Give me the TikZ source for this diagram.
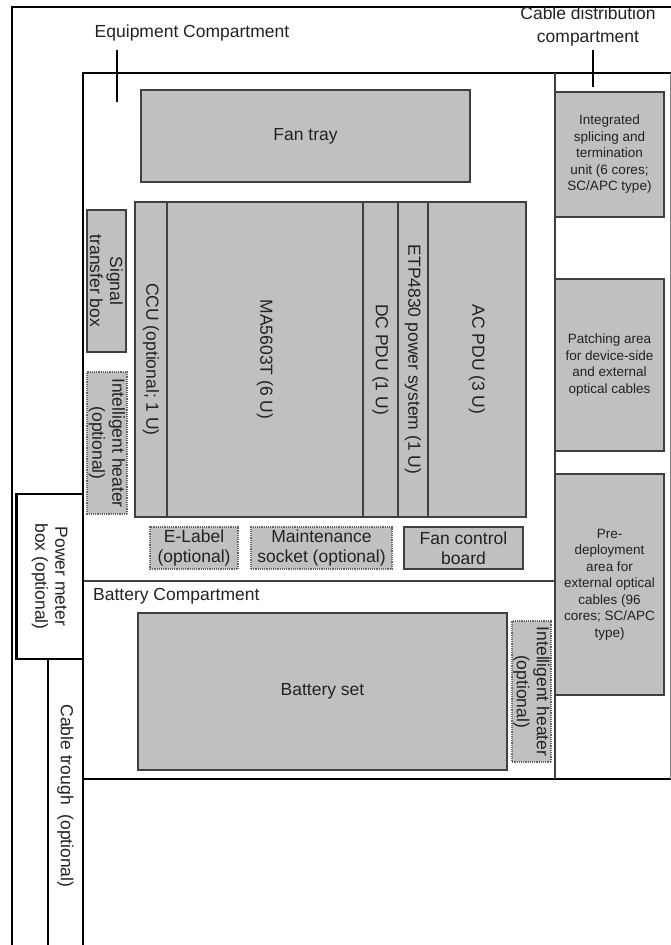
\documentclass[tikz,border=0pt]{standalone}
\usepackage{fontspec}
\setmainfont{Liberation Sans}
\definecolor{unitfill}{HTML}{C0C0C0}
\definecolor{unitline}{HTML}{404040}
\definecolor{textgray}{HTML}{222222}
\begin{document}
\begin{tikzpicture}[x=1pt,y=-1pt,
    unit/.style={draw=unitline,fill=unitfill,line width=1.2pt,inner sep=0pt,align=center,
      text=textgray,font=\fontsize{17.5}{20}\selectfont},
    optunit/.style={unit,draw=unitline!80,densely dotted},
    small/.style={font=\fontsize{13.5}{16.5}\selectfont},
    caption/.style={inner sep=0pt,align=center,text=textgray,font=\fontsize{17.5}{20}\selectfont}]

      \useasboundingbox (0,0) rectangle (671,945);

      \draw[line width=2pt] (12,945) -- (12,7) -- (671,7);
      \draw[line width=2pt] (83,945) -- (83,73) -- (671,73);
      \draw[line width=2pt] (83,779) -- (671,779);
      \draw[line width=1.5pt,unitline] (555,73) -- (555,779);
      \draw[line width=1.2pt,unitline] (83,581) -- (555,581);
      \draw[line width=1pt,gray] (670,73) -- (670,779);
      \draw[line width=1.5pt] (48,659) -- (48,945);

      \node[caption] (eqlabel)  at (192,33)   {Equipment Compartment};
      \node[caption,font=\fontsize{17.5}{23}\selectfont] (cablabel) at (588,26.5) {Cable distribution\\compartment};
      \node[caption,anchor=west] (batlabel) at (93,596) {Battery Compartment};

      \coordinate (eqtick)  at (117,50);
      \coordinate (eqend)   at (117,102);
      \coordinate (cabtick) at (593,50);
      \coordinate (cabend)  at (593,87);
      \draw[line width=1.2pt] (eqtick) -- (eqend);
      \draw[line width=1.2pt] (cabtick) -- (cabend);

      \node[unit,minimum width=329pt,minimum height=92pt] (fan) at (305.5,136) {Fan tray};

      \begin{scope}[every node/.append style={rotate=-90,minimum width=315pt}]
        \node[unit,minimum height=32pt] (ccu)   at (151,359.5)   {CCU (optional; 1 U)};
        \node[unit,minimum height=196pt] (ma)   at (265,359.5)   {MA5603T (6 U)};
        \node[unit,minimum height=35pt] (dcpdu) at (380.5,359.5) {DC PDU (1 U)};
        \node[unit,minimum height=30pt] (etp)   at (413,359.5)   {ETP4830 power system (1 U)};
        \node[unit,minimum height=98pt] (acpdu) at (477,359.5)   {AC PDU (3 U)};
      \end{scope}

      \node[unit,rotate=-90,minimum width=142pt,minimum height=39pt] (signal) at (106.5,281) {Signal\\transfer box};
      \node[optunit,rotate=-90,minimum width=142pt,minimum height=40pt] (heatup) at (107,443) {Intelligent heater\\(optional)};

      \node[optunit,minimum width=88pt,minimum height=42pt]  (elabel)  at (194,548)   {E-Label\\(optional)};
      \node[optunit,minimum width=141pt,minimum height=42pt] (socket)  at (321.5,548) {Maintenance\\socket (optional)};
      \node[unit,minimum width=119pt,minimum height=42pt]    (fanctrl) at (463.5,548) {Fan control\\board};

      \node[unit,minimum width=369pt,minimum height=157pt] (battery) at (322.5,691.5) {Battery set};
      \node[optunit,rotate=-90,minimum width=141pt,minimum height=39pt] (heatlow) at (531.5,691.5) {Intelligent heater\\(optional)};

      \node[unit,small,minimum width=109pt,minimum height=125pt] (splice) at (609.5,154.5)
        {Integrated\\splicing and\\termination\\unit (6 cores;\\SC/APC type)};
      \node[unit,small,minimum width=109pt,minimum height=172pt] (patch) at (609.5,365)
        {Patching area\\for device-side\\and external\\optical cables};
      \node[unit,small,minimum width=109pt,minimum height=221pt] (predep) at (609.5,584.5)
        {Pre-\\deployment\\area for\\external optical\\cables (96\\cores; SC/APC\\type)};

      \node[unit,fill=white,draw=black,rotate=-90,minimum width=165pt,minimum height=67pt] (pmeter) at (49.5,576.5)
        {Power meter\\box (optional)};
      \draw[line width=3pt] (16,494) -- (16,659);

      \node[caption,rotate=-90] (trough) at (65.5,796) {Cable trough\ \ (optional)};

    \end{tikzpicture}
\end{document}
